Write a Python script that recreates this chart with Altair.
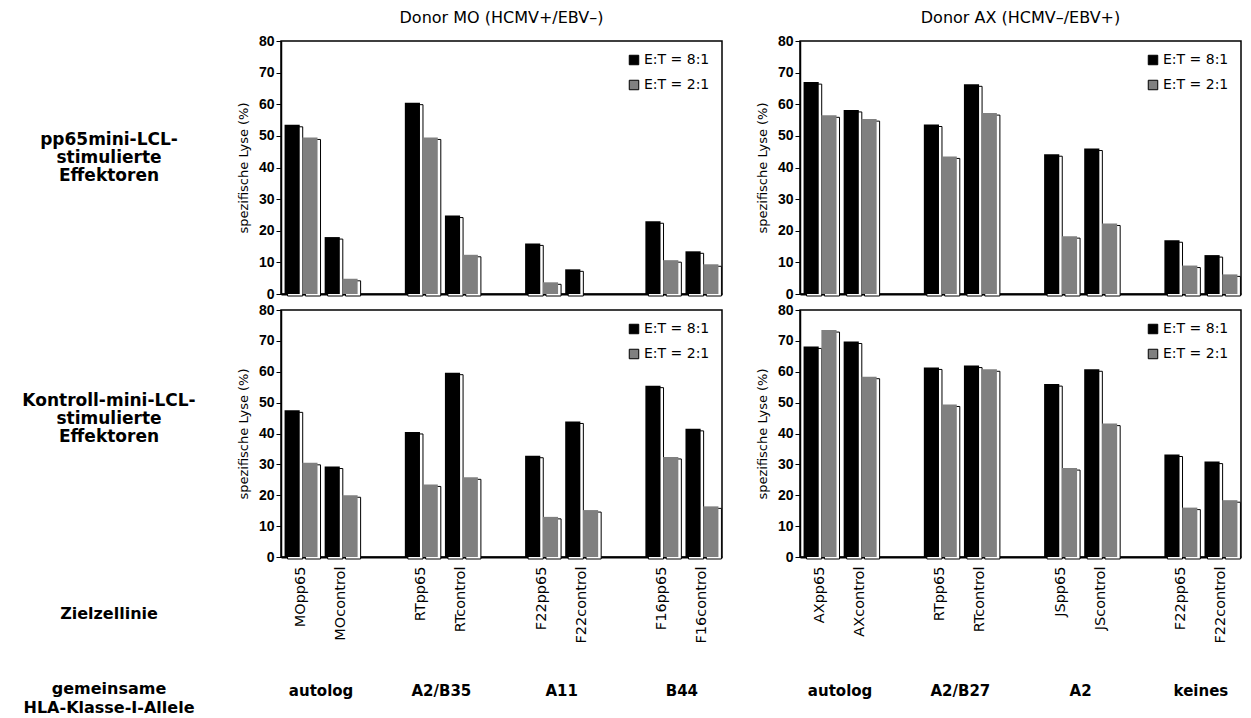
import altair as alt
import pandas as pd

# Effector : target ratios
series = ["E:T = 8:1", "E:T = 2:1"]
series_colors = ["#000000", "#808080"]

# target cell lines per donor
mo_cells = ["MOpp65", "MOcontrol", "RTpp65", "RTcontrol",
            "F22pp65", "F22control", "F16pp65", "F16control"]
ax_cells = ["AXpp65", "AXcontrol", "RTpp65", "RTcontrol",
            "JSpp65", "JScontrol", "F22pp65", "F22control"]

# shared HLA class I alleles for each pair of target lines
mo_groups = ["autolog", "A2/B35", "A11", "B44"]
ax_groups = ["autolog", "A2/B27", "A2", "keines"]

# specific lysis (%) - pp65mini-LCL-stimulated effectors
mo_pp65_81 = [53.5, 18.0, 60.5, 24.8, 16.0, 7.8, 23.0, 13.5]
mo_pp65_21 = [49.5, 4.8, 49.5, 12.4, 3.7, 0.0, 10.7, 9.4]
ax_pp65_81 = [67.0, 58.2, 53.6, 66.3, 44.2, 46.0, 17.0, 12.3]
ax_pp65_21 = [56.5, 55.3, 43.5, 57.2, 18.3, 22.3, 9.0, 6.2]

# specific lysis (%) - control mini-LCL-stimulated effectors
mo_ctrl_81 = [47.5, 29.3, 40.5, 59.7, 32.8, 43.9, 55.5, 41.5]
mo_ctrl_21 = [30.5, 20.0, 23.5, 25.8, 13.0, 15.2, 32.4, 16.4]
ax_ctrl_81 = [68.2, 69.8, 61.4, 62.0, 56.0, 60.8, 33.2, 30.9]
ax_ctrl_21 = [73.5, 58.4, 49.4, 60.8, 28.8, 43.2, 16.0, 18.4]

row_labels = ["pp65mini-LCL-\nstimulierte\nEffektoren",
              "Kontroll-mini-LCL-\nstimulierte\nEffektoren"]
target_label = "Zielzellinie"
allele_label = "gemeinsame\nHLA-Klasse-I-Allele"
titles = ["Donor MO (HCMV+/EBV\u2013)", "Donor AX (HCMV\u2013/EBV+)"]

W = 441
H_TOP = 253
H_BOT = 247
LABEL_X = -172
FONT = "DejaVu Sans"


def panel(cells, v81, v21, groups, height, title=None, bottom=False,
          row_label=None, row_label_y=0, left=False):
    df = pd.DataFrame({
        "cell": cells * 2,
        "series": [series[0]] * len(cells) + [series[1]] * len(cells),
        "value": v81 + v21,
    })
    # two bars per target line, an empty slot between each pair
    slots = [cells[0], cells[1], " ", cells[2], cells[3], "  ",
             cells[4], cells[5], "   ", cells[6], cells[7]]
    band = W / len(slots)
    xscale = alt.Scale(domain=slots, paddingInner=0, paddingOuter=0)
    if bottom:
        xaxis = alt.Axis(title=None, labelAngle=-90, ticks=False, labelPadding=9,
                         labelFont=FONT, labelFontSize=14.5, labelColor="black",
                         domainColor="black", domainWidth=2)
    else:
        xaxis = alt.Axis(title=None, labels=False, ticks=False,
                         domainColor="black", domainWidth=2)
    x = alt.X("cell:N", scale=xscale, axis=xaxis, sort=slots)
    y = alt.Y("value:Q", scale=alt.Scale(domain=[0, 80], nice=False),
              axis=alt.Axis(values=list(range(0, 81, 10)), title="spezifische Lyse (%)",
                            grid=False, tickSize=5, tickColor="black",
                            domainColor="black", domainWidth=1.5,
                            labelFont="Liberation Sans", labelFontSize=14,
                            labelFontWeight="bold", labelColor="black", labelPadding=2,
                            titleFont=FONT, titleFontSize=13, titleFontWeight="normal",
                            titleColor="black", titlePadding=8))
    base = alt.Chart(df).transform_filter("datum.value > 0")

    # outlined drop shadow behind every bar
    shadow = base.mark_bar(fill="white", stroke="black", strokeWidth=1, yOffset=2).encode(
        x=x,
        xOffset=alt.XOffset("series:N", sort=series,
                            scale=alt.Scale(domain=series, range=[3, band + 3],
                                            paddingInner=0.15, paddingOuter=0.2)),
        y=y,
    )
    bars = base.mark_bar().encode(
        x=x,
        xOffset=alt.XOffset("series:N", sort=series,
                            scale=alt.Scale(domain=series, range=[0, band],
                                            paddingInner=0.15, paddingOuter=0.2)),
        y=y,
        color=alt.Color("series:N", sort=series,
                        scale=alt.Scale(domain=series, range=series_colors),
                        legend=alt.Legend(title=None, orient="top-right", offset=12,
                                          symbolType="square", symbolSize=90,
                                          symbolStrokeColor="black", symbolStrokeWidth=1,
                                          labelFont=FONT, labelFontSize=14,
                                          labelColor="black", labelOffset=3,
                                          rowPadding=11)),
    )
    layers = [shadow, bars]

    if row_label is not None:
        layers.append(
            alt.Chart(pd.DataFrame({"t": [row_label]}))
            .mark_text(lineBreak="\n", font=FONT, fontSize=17, fontWeight="bold",
                       align="center", baseline="middle", lineHeight=18, color="black")
            .encode(text="t:N", x=alt.value(LABEL_X), y=alt.value(row_label_y))
        )

    if bottom:
        gdf = pd.DataFrame({"cell": [cells[1], cells[3], cells[5], cells[7]],
                            "group": groups})
        layers.append(
            alt.Chart(gdf)
            .mark_text(font=FONT, fontSize=15, fontWeight="bold", align="center",
                       baseline="middle", color="black")
            .encode(x=alt.X("cell:N", scale=xscale, axis=xaxis, sort=slots, bandPosition=0),
                    y=alt.value(height + 134), text="group:N")
        )
        if left:
            layers.append(
                alt.Chart(pd.DataFrame({"t": [target_label]}))
                .mark_text(font=FONT, fontSize=16, fontWeight="bold", align="center",
                           baseline="middle", color="black")
                .encode(text="t:N", x=alt.value(LABEL_X), y=alt.value(height + 57))
            )
            layers.append(
                alt.Chart(pd.DataFrame({"t": [allele_label]}))
                .mark_text(lineBreak="\n", font=FONT, fontSize=16, fontWeight="bold",
                           align="center", baseline="middle", lineHeight=19,
                           color="black")
                .encode(text="t:N", x=alt.value(LABEL_X), y=alt.value(height + 132))
            )

    props = dict(width=W, height=height)
    if title is not None:
        props["title"] = alt.TitleParams(title, font=FONT, fontSize=16,
                                         fontWeight="normal", color="black",
                                         anchor="middle", offset=8)
    return alt.layer(*layers).resolve_scale(xOffset="independent").properties(**props)


tl = panel(mo_cells, mo_pp65_81, mo_pp65_21, mo_groups, H_TOP, title=titles[0],
           row_label=row_labels[0], row_label_y=99)
tr = panel(ax_cells, ax_pp65_81, ax_pp65_21, ax_groups, H_TOP, title=titles[1])
bl = panel(mo_cells, mo_ctrl_81, mo_ctrl_21, mo_groups, H_BOT, bottom=True,
           row_label=row_labels[1], row_label_y=91, left=True)
br = panel(ax_cells, ax_ctrl_81, ax_ctrl_21, ax_groups, H_BOT, bottom=True)

chart = (
    alt.concat(tl, tr, bl, br, columns=2, spacing={"row": 0, "column": 32})
    .resolve_scale(color="independent", x="independent", y="independent")
    .resolve_legend(color="independent")
    .properties(padding={"left": 21, "top": 9, "right": 4, "bottom": 0},
                background="white")
    .configure_view(stroke="black", strokeWidth=1.5)
)

chart.save("out.html", embed_options={"renderer": "svg", "actions": False})
